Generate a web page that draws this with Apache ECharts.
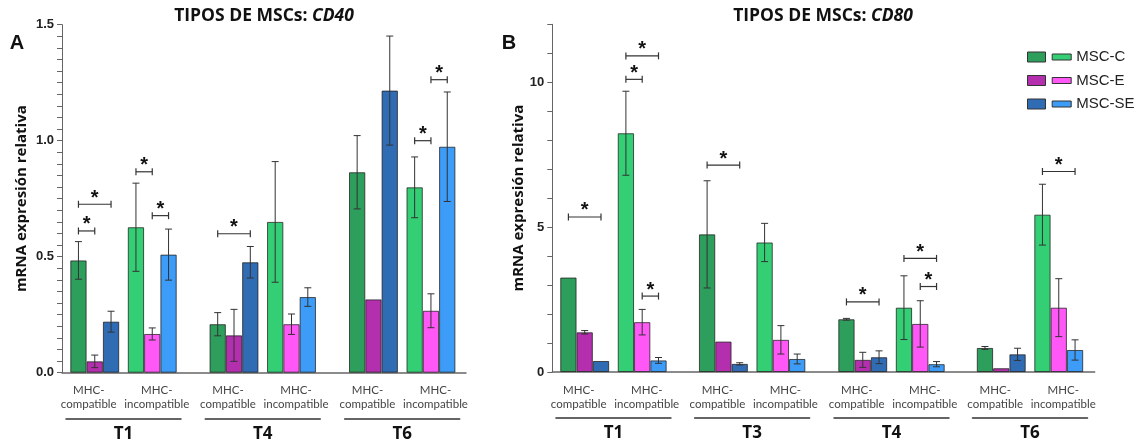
<!DOCTYPE html>
<html><head><meta charset="utf-8">
<script src="https://cdn.jsdelivr.net/npm/echarts@6/dist/echarts.min.js"></script>
<style>html,body{margin:0;padding:0;background:#fff}#c{width:1141px;height:447px}</style>
</head><body><div id="c"></div><script>
// ---------- DATA ----------
const seriesNames = ['MSC-C', 'MSC-E', 'MSC-SE'];
const subCategories = ['MHC-\ncompatible', 'MHC-\nincompatible'];
const groupsCD40 = ['T1', 'T4', 'T6'];
const groupsCD80 = ['T1', 'T3', 'T4', 'T6'];
// values ordered per group: compatible, incompatible
const cd40_C   = [0.484, 0.627, 0.209, 0.650, 0.864, 0.799];
const cd40_E   = [0.049, 0.167, 0.161, 0.209, 0.316, 0.267];
const cd40_SE  = [0.220, 0.509, 0.476, 0.326, 1.216, 0.974];
const cd40_C_err  = [0.081, 0.190, 0.050, 0.260, 0.158, 0.131];
const cd40_E_err  = [0.027, 0.026, 0.112, 0.044, 0, 0.073];
const cd40_SE_err = [0.045, 0.110, 0.068, 0.040, 0.235, 0.236];
const cd80_C   = [3.26, 8.24, 4.75, 4.47, 1.82, 2.22, 0.83, 5.43];
const cd80_E   = [1.37, 1.72, 1.05, 1.11, 0.42, 1.66, 0.13, 2.22];
const cd80_SE  = [0.38, 0.40, 0.28, 0.45, 0.51, 0.27, 0.61, 0.76];
const cd80_C_err  = [0, 1.45, 1.85, 0.66, 0.03, 1.10, 0.05, 1.05];
const cd80_E_err  = [0.06, 0.44, 0, 0.49, 0.26, 0.80, 0, 1.00];
const cd80_SE_err = [0, 0.10, 0.04, 0.17, 0.22, 0.09, 0.21, 0.35];
// significance brackets: [groupIndex, subCategoryIndex, fromSeries, toSeries, yValue]
const cd40_sig = [[0,0,0,1,0.611],[0,0,0,2,0.726],[0,1,0,1,0.866],[0,1,1,2,0.677],[1,0,0,2,0.599],[2,1,0,1,1.0],[2,1,1,2,1.263]];
const cd80_sig = [[0,0,0,2,5.35],[0,1,0,1,10.1],[0,1,0,2,10.91],[0,1,1,2,2.62],[1,0,0,2,7.14],[2,0,0,2,2.42],[2,1,0,2,3.92],[2,1,1,2,2.95],[3,1,0,2,6.92]];
const cd40TickLabels = ['0.0', '0.5', '1.0', '1.5'];
const cd80TickLabels = ['0', '5', '10'];

// ---------- STYLE ----------
const darkColors = ['#2e9e5c', '#b32fae', '#2f6cb3'];
const lightColors = ['#34cf75', '#ff58f6', '#3d9cf7'];
const labelPadding = [[0, 12, 0, 0], [0, 0, 0, 9]];
const barW = 16.3, capHalf = 3.5;
const ink = '#333';

const grids = [], xAxes = [], yAxes = [], series = [];

function tickFormatter(labels) {
  return function (v) {
    for (const l of labels) if (Math.abs(parseFloat(l) - v) < 1e-6) return l;
    return '';
  };
}

function errRender(params, api) {
  const c = api.value(0), v = api.value(1), e = api.value(2), s = api.value(3);
  if (!e) return null;
  const x = api.coord([c, v])[0] + (s - 1) * barW;
  const yt = api.coord([c, v + e])[1];
  const yb = api.coord([c, Math.max(v - e, 0)])[1];
  const st = { stroke: ink, lineWidth: 1 };
  return { type: 'group', children: [
    { type: 'line', shape: { x1: x, y1: yt, x2: x, y2: yb }, style: st },
    { type: 'line', shape: { x1: x - capHalf, y1: yt, x2: x + capHalf, y2: yt }, style: st },
    { type: 'line', shape: { x1: x - capHalf, y1: yb, x2: x + capHalf, y2: yb }, style: st }
  ]};
}
function sigRender(params, api) {
  const c = api.value(0), a = api.value(1), b = api.value(2), y = api.value(3);
  const p = api.coord([c, y]);
  const x1 = p[0] + (a - 1) * barW, x2 = p[0] + (b - 1) * barW, yy = p[1];
  const st = { stroke: ink, lineWidth: 1.2 };
  return { type: 'group', children: [
    { type: 'line', shape: { x1: x1, y1: yy, x2: x2, y2: yy }, style: st },
    { type: 'line', shape: { x1: x1, y1: yy - 3.5, x2: x1, y2: yy + 3.5 }, style: st },
    { type: 'line', shape: { x1: x2, y1: yy - 3.5, x2: x2, y2: yy + 3.5 }, style: st },
    { type: 'text', x: (x1 + x2) / 2, y: yy - 6, style: { text: '*', fill: '#111', font: 'bold 20px "Liberation Sans"', align: 'center', verticalAlign: 'middle' } }
  ]};
}

function buildPanel(cfg) {
  const { groups, vals, errs, sig, max, interval, labels, top, bottom, left, width, subLefts, subWidth, nameGap } = cfg;
  const gi = grids.length;
  grids.push({ left: left, top: top, width: width, bottom: bottom });
  xAxes.push({ gridIndex: gi, type: 'category', data: [''], axisLine: { lineStyle: { color: '#666', width: 1.5 } }, axisTick: { show: false }, axisLabel: { show: false } });
  yAxes.push({ gridIndex: gi, type: 'value', min: 0, max: max, interval: interval,
    name: 'mRNA expresión relativa', nameLocation: 'middle', nameGap: nameGap,
    nameTextStyle: { fontFamily: 'Open Sans', fontWeight: 'bold', fontSize: 15, color: '#111' },
    axisLine: { show: true, lineStyle: { color: '#666', width: 1 } },
    axisTick: { show: true, length: 5, lineStyle: { color: '#666' } },
    splitLine: { show: false },
    axisLabel: { formatter: tickFormatter(labels), fontFamily: 'Liberation Sans', fontWeight: 'bold', fontSize: 13, color: '#222', margin: 8 } });
  groups.forEach((g, k) => {
    const idx = grids.length;
    grids.push({ left: subLefts[k], top: top, width: subWidth, bottom: bottom });
    const xi = xAxes.length;
    xAxes.push({ gridIndex: idx, type: 'category',
      data: subCategories.map((c, j) => ({ value: c, textStyle: { padding: labelPadding[j] } })),
      axisLine: { show: false }, axisTick: { show: false },
      axisLabel: { fontFamily: 'Lato', fontSize: 11.5, color: '#444', lineHeight: 14, margin: 11, interval: 0 } });
    xAxes.push({ gridIndex: idx, type: 'category', data: [g], position: 'bottom', offset: 45.6,
      axisLine: { show: true, onZero: false, lineStyle: { color: '#333', width: 1.5 } }, axisTick: { show: false },
      axisLabel: { fontFamily: 'Open Sans', fontWeight: 'bold', fontSize: 17, color: '#111', margin: 7 } });
    const yi = yAxes.length;
    yAxes.push({ gridIndex: idx, type: 'value', min: 0, max: max, show: false });
    seriesNames.forEach((n, s) => {
      series.push({ type: 'bar', name: n, xAxisIndex: xi, yAxisIndex: yi, barWidth: barW, barGap: '0%',
        data: [0, 1].map(j => ({ value: vals[s][2 * k + j], itemStyle: { color: j === 0 ? darkColors[s] : lightColors[s], borderColor: 'rgba(30,30,30,0.75)', borderWidth: 1 } })) });
    });
    const errData = [];
    seriesNames.forEach((n, s) => { [0, 1].forEach(j => errData.push([j, vals[s][2 * k + j], errs[s][2 * k + j], s])); });
    series.push({ type: 'custom', xAxisIndex: xi, yAxisIndex: yi, renderItem: errRender, data: errData, encode: { x: 0, y: 1 }, z: 5, silent: true });
    const sd = sig.filter(r => r[0] === k).map(r => [r[1], r[2], r[3], r[4]]);
    if (sd.length) series.push({ type: 'custom', xAxisIndex: xi, yAxisIndex: yi, renderItem: sigRender, data: sd, encode: { x: 0, y: 3 }, z: 6, silent: true });
  });
}

buildPanel({ groups: groupsCD40, vals: [cd40_C, cd40_E, cd40_SE], errs: [cd40_C_err, cd40_E_err, cd40_SE_err], sig: cd40_sig,
  max: 1.5, interval: 0.05, labels: cd40TickLabels, top: 24.7, bottom: 74.3, left: 62, width: 404,
  subLefts: [66, 205.25, 344.7], subWidth: 115, nameGap: 32.5 });
buildPanel({ groups: groupsCD80, vals: [cd80_C, cd80_E, cd80_SE], errs: [cd80_C_err, cd80_E_err, cd80_SE_err], sig: cd80_sig,
  max: 12, interval: 1, labels: cd80TickLabels, top: 24.3, bottom: 75, left: 552.3, width: 542.4,
  subLefts: [555.95, 694.65, 834, 972.5], subWidth: 115, nameGap: 26.5 });

const legendText = { fontFamily: 'Liberation Sans', fontSize: 15, color: '#222', lineHeight: 16 };
const titleRich = {
  a: { fontFamily: 'Open Sans', fontWeight: 'bold', fontSize: 17.5, fill: '#111' },
  b: { fontFamily: 'Open Sans', fontWeight: 'bold', fontStyle: 'italic', fontSize: 17.5, fill: '#111' }
};
const option = {
  animation: false,
  grid: grids, xAxis: xAxes, yAxis: yAxes, series: series,
  legend: [
    { orient: 'vertical', left: 1027, top: 49, padding: 0, itemWidth: 18, itemHeight: 10, itemGap: 7.5, icon: 'rect', selectedMode: false,
      formatter: () => ' ', textStyle: legendText,
      data: seriesNames.map((n, i) => ({ name: n, itemStyle: { color: darkColors[i], borderColor: '#333', borderWidth: 1 } })) },
    { orient: 'vertical', left: 1051.7, top: 49, padding: 0, itemWidth: 19, itemHeight: 6, itemGap: 7.5, icon: 'rect', selectedMode: false,
      textStyle: legendText,
      data: seriesNames.map((n, i) => ({ name: n, itemStyle: { color: lightColors[i], borderColor: '#333', borderWidth: 1 } })) }
  ],
  graphic: [
    { type: 'text', x: 264, y: 16, style: { text: '{a|TIPOS DE MSCs: }{b|CD40}', align: 'center', verticalAlign: 'middle', rich: titleRich } },
    { type: 'text', x: 823, y: 16, style: { text: '{a|TIPOS DE MSCs: }{b|CD80}', align: 'center', verticalAlign: 'middle', rich: titleRich } },
    { type: 'text', x: 17, y: 43, style: { text: 'A', font: 'bold 20px "Liberation Sans"', fill: '#111', align: 'center', verticalAlign: 'middle' } },
    { type: 'text', x: 509, y: 43, style: { text: 'B', font: 'bold 20px "Liberation Sans"', fill: '#111', align: 'center', verticalAlign: 'middle' } }
  ]
};
const chart = echarts.init(document.getElementById('c'), null, { renderer: 'canvas' });
chart.setOption(option);
</script></body></html>
